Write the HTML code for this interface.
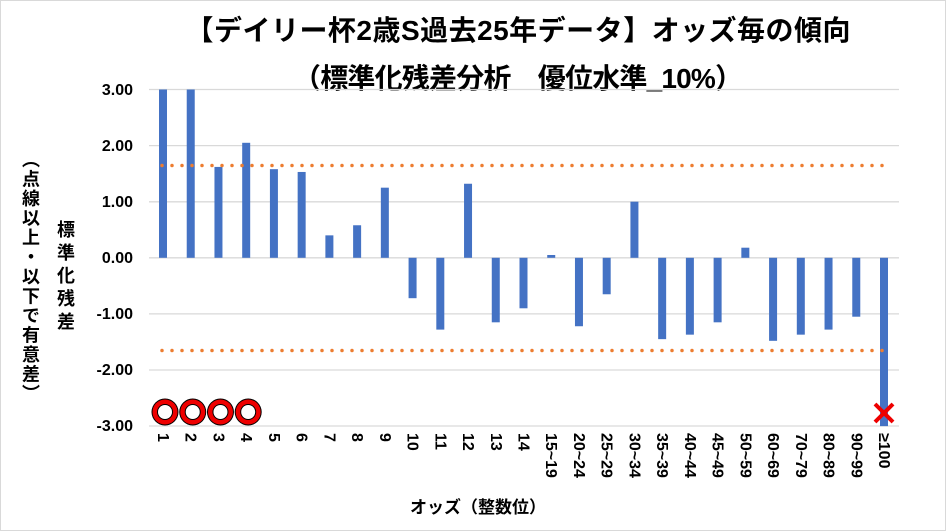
<!DOCTYPE html>
<html><head><meta charset="utf-8"><style>
body{margin:0;background:#fff;position:relative;width:946px;height:531px;overflow:hidden}
svg{display:block;font-family:"Liberation Sans","Noto Sans CJK JP",sans-serif}
.v{position:absolute;writing-mode:vertical-rl;font-family:"Liberation Sans","Noto Sans CJK JP",sans-serif;font-weight:bold;font-size:18px;color:#000;white-space:nowrap;line-height:20px}
</style></head><body>
<svg width="946" height="531" viewBox="0 0 946 531" xmlns="http://www.w3.org/2000/svg">
<rect x="0.5" y="0.5" width="945" height="530" fill="#fff" stroke="#d9d9d9"/>
<text x="518" y="40" font-size="28" font-weight="bold" text-anchor="middle" fill="#000" textLength="665">【デイリー杯2歳S過去25年データ】オッズ毎の傾向</text>
<text x="518" y="88" font-size="28" font-weight="bold" text-anchor="middle" fill="#000" textLength="450">（標準化残差分析　優位水準_10%）</text>
<g stroke="#d9d9d9" stroke-width="1.3">
<line x1="149" x2="899" y1="89.5" y2="89.5"/><line x1="149" x2="899" y1="145.6" y2="145.6"/>
<line x1="149" x2="899" y1="201.8" y2="201.8"/><line x1="149" x2="899" y1="257.8" y2="257.8"/>
<line x1="149" x2="899" y1="313.9" y2="313.9"/><line x1="149" x2="899" y1="370" y2="370"/>
<line x1="149" x2="899" y1="426" y2="426"/>
</g>
<g font-size="16" font-weight="bold" text-anchor="end" fill="#000">
<text x="133" y="95">3.00</text><text x="133" y="151">2.00</text><text x="133" y="207">1.00</text>
<text x="133" y="263">0.00</text><text x="133" y="319">-1.00</text><text x="133" y="375">-2.00</text><text x="133" y="431">-3.00</text>
</g>
<g id="bars" fill="#4472c4"></g>
<g stroke="#ed7d31" stroke-width="3.5" stroke-linecap="round" stroke-dasharray="0 10">
<line x1="162" x2="885" y1="165.5" y2="165.5"/><line x1="162" x2="885" y1="350.5" y2="350.5"/>
</g>
<g id="circ"></g>
<g id="xl" font-size="16" font-weight="bold" fill="#000"></g>
<g stroke="#e00" stroke-width="4"><line x1="875" y1="404" x2="893" y2="422"/><line x1="893" y1="404" x2="875" y2="422"/></g>
<text x="478" y="513" font-size="17" font-weight="bold" text-anchor="middle" fill="#000">オッズ（整数位）</text>
<script>
var v=[3,3,1.62,2.05,1.58,1.53,0.40,0.58,1.25,-0.72,-1.28,1.32,-1.15,-0.90,0.05,-1.22,-0.65,1.0,-1.45,-1.37,-1.15,0.18,-1.48,-1.37,-1.28,-1.05,-3];
var l=["1","2","3","4","5","6","7","8","9","10","11","12","13","14","15~19","20~24","25~29","30~34","35~39","40~44","45~49","50~59","60~69","70~79","80~89","90~99","≥100"];
var ns="http://www.w3.org/2000/svg",b=document.getElementById("bars"),x=document.getElementById("xl"),c=document.getElementById("circ");
var s=(884-163)/26,y0=257.8,u=56.1;
for(var i=0;i<27;i++){var cx=163+i*s;var r=document.createElementNS(ns,"rect");
var h=v[i]*u;r.setAttribute("x",cx-4);r.setAttribute("width",8);r.setAttribute("y",h>0?y0-h:y0);r.setAttribute("height",Math.abs(h));b.appendChild(r);
var t=document.createElementNS(ns,"text");t.setAttribute("transform","translate("+(cx-5)+",433) rotate(90)");t.textContent=l[i];x.appendChild(t);
if(i<4){[["#000",13.5],["#e00",12.5],["#000",8],["#fff",7]].forEach(function(p){var e=document.createElementNS(ns,"circle");e.setAttribute("cx",cx+2);e.setAttribute("cy",412);e.setAttribute("r",p[1]);e.setAttribute("fill",p[0]);c.appendChild(e);});}}
</script>
</svg>
<div class="v" style="left:55px;top:220px;letter-spacing:5px">標準化残差</div>
<div class="v" style="left:20px;top:150px;letter-spacing:1.5px">（点線以上・以下で有意差）</div>
</body></html>
